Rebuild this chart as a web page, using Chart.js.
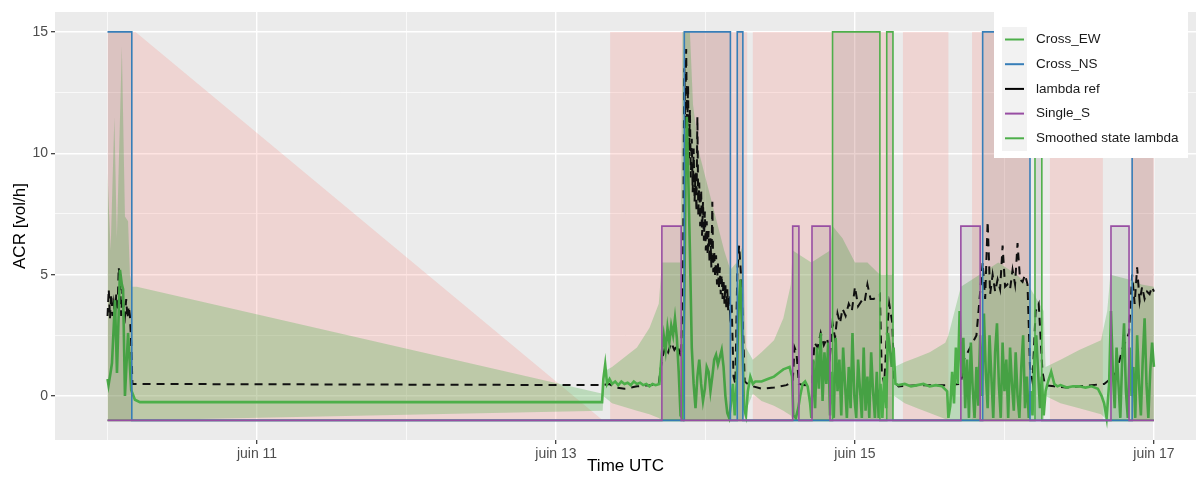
<!DOCTYPE html>
<html>
<head>
<meta charset="utf-8">
<script src="https://cdn.jsdelivr.net/npm/chart.js@4.4.0/dist/chart.umd.min.js"></script>
<style>
  body { margin: 0; background: #fff; }
</style>
</head>
<body>
<canvas id="myChart" width="1196" height="478"></canvas>
<script>
// hours since juin 10 00:00 UTC
const xTickHours = [24, 72, 120, 168];
const xTickLabels = ['juin 11', 'juin 13', 'juin 15', 'juin 17'];
const yTickValues = [0, 5, 10, 15];

const legendItems = ['Cross_EW', 'Cross_NS', 'lambda ref', 'Single_S', 'Smoothed state lambda'];
const legendColors = ['#4DAF4A', '#377EB8', '#000000', '#984EA3', '#4DAF4A'];

// state indicators: change times and the value held from that time
const crossNsT = [0, 3.9, 92.6, 100.0, 101.1, 102.0, 140.5, 148.1, 164.5, 168];
const crossNsV = [15, -1, 15, -1, 15, -1, 15, -1, 15, 15];
const crossEwT = [0, 116.4, 124.0, 125.1, 126.1, 148.9, 150.0, 168];
const crossEwV = [-1, 15, -1, 15, -1, 15, -1, -1];
const singleST = [0, 89.0, 92.1, 110.0, 111.0, 113.1, 116.0, 137.0, 140.1, 161.1, 164.0, 168];
const singleSV = [-1, 7, -1, 7, -1, 7, -1, 7, -1, 7, -1, -1];

// pink band (upper edge, lower edge is -1)
const pinkT = [0, 4.5, 79.5, 80.7, 80.7, 102.7, 102.7, 103.6, 103.6, 126.1, 126.1, 127.7, 127.7, 135, 135, 138.8, 138.8, 148.1, 148.1, 151.3, 151.3, 159.8, 159.8, 164.3, 164.3, 168];
const pinkHi = [15, 15, -1, -1, 15, 15, -1, -1, 15, 15, -1, -1, 15, 15, -1, -1, 15, 15, -1, -1, 15, 15, -1, -1, 15, 15];

// green confidence band of the smoothed state
const bandT  = [0, 0.5, 1.1, 1.5, 2.3, 2.8, 3.3, 3.6, 3.9, 4.7, 79.5, 79.6, 81, 83, 85, 87, 88.5, 89.0, 92.0, 92.3, 93.5, 94, 95, 96, 97, 98, 99, 100, 101, 102, 102.5, 103.6, 105, 107, 108.5, 109.7, 110, 113, 116, 116.4, 118, 120, 122, 124, 126, 126.3, 128, 130, 132, 134.5, 135, 137, 140, 143, 146, 148, 150.3, 150.6, 153, 156, 159.5, 160.5, 161, 164, 166, 168];
const bandHi = [9.2, 6, 11.5, 6.5, 14.4, 7.4, 7.2, 5, 4.5, 4.5, 0.1, 1.0, 1.2, 1.6, 2.0, 2.8, 3.8, 5.5, 5.5, 15, 15, 12, 10, 9, 8, 7, 6, 5.2, 5.5, 6.2, 2.0, 1.5, 1.8, 2.3, 3.2, 4.6, 6.0, 5.5, 6.0, 7.0, 6.5, 5.5, 5.5, 5.0, 5.0, 1.2, 1.4, 1.6, 1.8, 2.2, 2.5, 4.5, 5.0, 5.5, 5.0, 4.5, 3.5, 1.2, 1.5, 1.9, 2.3, 3.5, 5.0, 4.8, 4.6, 4.5];
const bandLo = [-1, -1, -1, -1, -1, -1, -1, -1, -1, -1, -0.6, 0.0, -0.3, -0.45, -0.6, -0.75, -0.9, -1, -1, -1, -1, -1, -1, -1, -1, -1, -1, -1, -1, -1, -0.6, 0.1, -0.2, -0.4, -0.6, -0.8, -1, -1, -1, -1, -1, -1, -1, -1, -1, 0.0, -0.3, -0.5, -0.7, -0.95, -1, -1, -1, -1, -1, -1, -1, 0.0, -0.3, -0.5, -0.75, -1, -1, -1, -1, -1];

// smoothed state lambda [hour, value]
const smoothedLambda = [
  [0, 0.7], [0.16, 0.45], [0.45, 0.9], [0.72, 1.36], [1.2, 3.95], [1.52, 0.95], [2.0, 5.2], [2.3, 4.6], [2.5, 4.4], [2.8, 0.0], [3.3, 2.6], [3.8, 0.25], [4.4, -0.15], [5.2, -0.25], [79.4, -0.25],
  [79.6, 0.7], [79.9, 1.3], [80.2, 0.5], [80.6, 0.7], [81, 0.5], [81.5, 0.6], [82, 0.45], [82.5, 0.6], [83, 0.5], [83.5, 0.55], [84, 0.45], [84.5, 0.6], [85, 0.5], [85.5, 0.55], [86, 0.45], [86.5, 0.5], [87, 0.4], [87.5, 0.5], [88, 0.45], [88.6, 0.5],
  [89.0, 1.8], [89.3, 2.5], [89.6, 1.9], [89.9, 2.8], [90.2, 2.2], [90.5, 2.9], [90.8, 2.5], [91.1, 3.2], [91.4, 2.4], [91.7, 1.0], [92.0, -0.8],
  [92.3, -0.9], [92.6, 4.0], [92.8, 9.0], [93.0, 11.5], [93.2, 9.5], [93.5, 6.0], [93.8, 2.0], [94.1, 0.5], [94.4, -0.5], [94.7, 0.8], [95.0, 1.5], [95.3, 0.5], [95.6, -0.2], [95.9, 0.3], [96.2, 1.2], [96.5, 1.0], [96.8, 0.2], [97.1, 0.8], [97.4, 1.5], [97.7, 1.7], [98.0, 1.3], [98.3, 1.6], [98.6, 1.9], [98.9, 1.2], [99.2, 0.0], [99.5, -0.7], [99.8, -0.9], [100.1, -0.3], [100.4, 0.5], [100.7, -0.8], [101.0, 0.5], [101.3, 3.5], [101.6, 4.8], [101.9, 2.5], [102.2, -0.5], [102.5, -0.8], [102.8, 0.2],
  [103.2, 0.8], [103.6, 0.5], [104, 0.6], [105, 0.6], [106, 0.7], [107, 0.8], [108, 1.0], [108.5, 1.1], [109, 1.15], [109.5, 1.2], [109.9, 0.8], [110.1, -0.8], [110.5, -0.9], [110.9, -0.5], [111.2, 0.0], [111.6, 0.5], [112, 0.6], [112.4, 0.4], [112.8, -0.3], [113.0, -0.9],
  [113.3, 1.5], [113.6, -0.5], [113.9, 2.0], [114.2, 0.3], [114.5, 2.6], [114.8, -0.2], [115.1, 1.8], [115.4, 0.5], [115.7, 2.2], [116.0, -0.8], [116.3, 1.0],
  [116.6, -0.9], [116.9, 2.4], [117.2, 0.2], [117.5, 1.5], [117.8, -0.8], [118.1, 2.0], [118.4, 0.5], [118.7, -0.9], [119.0, 1.2], [119.3, -0.5], [119.6, 2.6], [119.9, 0.0], [120.2, -0.9], [120.5, 1.5], [120.8, 0.3], [121.1, -0.9], [121.4, 2.0], [121.7, -0.6], [122.0, 0.8], [122.3, -0.9], [122.6, 1.8], [122.9, 0.2], [123.2, -0.9], [123.5, 1.0], [123.8, -0.9], [124.1, 0.5], [124.4, -0.9], [124.7, 0.8], [125.0, -0.5], [125.3, 2.6], [125.6, 2.0], [125.9, 1.2], [126.2, 2.0], [126.5, 0.5],
  [127, 0.45], [128, 0.5], [129, 0.4], [130, 0.45], [131, 0.5], [132, 0.4], [133, 0.45], [134, 0.4], [134.8, 0.2], [135.0, -0.9], [135.3, -0.4],
  [135.6, 1.0], [135.9, -0.3], [136.2, 2.0], [136.5, 0.5], [136.8, 3.5], [137.1, 0.8], [137.4, 2.4], [137.7, -0.5], [138.0, 1.5], [138.3, -0.9], [138.6, 2.2], [138.9, 0.3], [139.2, -0.9], [139.5, 1.2], [139.8, -0.4], [140.1, 2.5], [140.4, 0.0],
  [140.7, 3.4], [141.0, 1.0], [141.3, -0.5], [141.6, 2.5], [141.9, 0.8], [142.2, -0.9], [142.5, 1.8], [142.8, 3.0], [143.1, 0.5], [143.4, -0.9], [143.7, 2.2], [144.0, 0.2], [144.3, 1.5], [144.6, -0.9], [144.9, 2.0], [145.2, 0.5], [145.5, -0.6], [145.8, 1.8], [146.1, 0.0], [146.4, -0.9], [146.7, 1.2], [147.0, 2.5], [147.3, -0.5], [147.6, 0.8], [147.9, -0.9],
  [148.2, 0.2], [148.5, -0.8], [148.8, 1.5], [149.1, 2.5], [149.4, 1.0], [149.7, -0.5], [150.0, 0.8], [150.3, -0.8], [150.6, 0.2], [151, 0.6], [151.5, 1.0], [152, 0.5], [152.5, 0.4], [153, 0.45], [154, 0.35], [155, 0.4], [156, 0.4], [157, 0.35], [158, 0.4], [159, 0.3], [159.6, 0.0], [160, -0.3], [160.4, -0.9], [160.8, 0.5],
  [161.1, 3.5], [161.4, 1.0], [161.7, -0.5], [162.0, 2.0], [162.3, 0.5], [162.6, -0.9], [162.9, 1.5], [163.2, 3.0], [163.5, 0.2], [163.8, -0.9], [164.1, 2.0], [164.4, 0.0], [164.7, 1.2], [165.0, -0.9], [165.3, 2.5], [165.6, 0.5], [165.9, -0.8], [166.2, 1.5], [166.5, 3.2], [166.8, 0.5], [167.1, -0.9], [167.4, 1.0], [167.7, 2.2], [168, 1.2]
];

// lambda ref [hour, value]
const lambdaRef = [
  [0, 3.3], [0.2, 4.4], [0.4, 3.2], [0.6, 4.2], [0.8, 3.3], [1.0, 3.8], [1.2, 3.3], [1.4, 4.2], [1.6, 3.5], [1.8, 5.3], [2.0, 4.8], [2.2, 3.3], [2.4, 4.4], [2.6, 3.6], [2.8, 3.3], [3.0, 4.0], [3.2, 3.2], [3.4, 3.7], [3.6, 3.3], [3.8, 2.2], [4.0, 0.5], [79.5, 0.45],
  [80.5, 0.5], [81.5, 0.35], [83, 0.3], [85, 0.4], [87, 0.45], [88.5, 0.5], [89, 1.5], [89.5, 2.0], [90, 1.8], [90.5, 2.2], [91, 1.9], [91.5, 2.1], [92.1, 1.6], [92.4, 5.0],
  [92.6, 13.5], [92.75, 11.0], [92.9, 14.3], [93.05, 10.5], [93.2, 12.8], [93.35, 9.8], [93.5, 11.8], [93.65, 9.0], [93.8, 10.6], [93.95, 8.4], [94.1, 10.2], [94.25, 8.0], [94.4, 9.2], [94.55, 7.6], [94.7, 11.5], [94.85, 7.4], [95.0, 8.8], [95.15, 7.0], [95.3, 8.5], [95.45, 6.6], [95.6, 8.0], [95.75, 6.4], [95.9, 7.6], [96.05, 6.0], [96.2, 7.2], [96.35, 5.8], [96.5, 6.8], [96.65, 5.5], [96.8, 6.5], [96.95, 5.3], [97.1, 8.0], [97.25, 5.1], [97.4, 6.0], [97.55, 4.9], [97.7, 5.8], [97.85, 4.6], [98.0, 5.5], [98.15, 4.4], [98.3, 5.3], [98.45, 4.2], [98.6, 5.0], [98.75, 4.0], [98.9, 4.8], [99.05, 3.8], [99.2, 4.6], [99.35, 3.6], [99.5, 4.4], [99.65, 3.5], [99.8, 4.2], [99.95, 3.4], [100.2, 3.8], [100.5, 0.8], [100.8, 0.5],
  [101.1, 5.0], [101.4, 6.2], [101.7, 5.0], [102.0, 3.0], [102.3, 0.6], [103, 0.45], [105, 0.3], [107, 0.35], [109, 0.45], [110, 0.6], [110.3, 2.0], [110.6, 1.8], [111.0, 0.5], [112, 0.45],
  [113.1, 0.5], [113.5, 2.2], [114, 2.0], [114.5, 2.6], [115, 2.1], [115.5, 2.4], [116.0, 1.7], [116.4, 3.0], [116.8, 2.4], [117.2, 3.4], [117.6, 3.0], [118.0, 3.6], [118.5, 3.3], [119.0, 3.8], [119.5, 3.5], [120.0, 4.5], [120.5, 3.7], [121.0, 3.9], [121.5, 3.8], [122.0, 4.6], [122.5, 4.0], [123.0, 4.0], [123.5, 4.1], [124.0, 4.2], [124.3, 1.0], [124.7, 0.5],
  [125.1, 2.5], [125.5, 3.8], [126.0, 3.0], [126.3, 0.6], [127, 0.4], [130, 0.45], [133, 0.45], [135, 0.45], [137, 0.5], [137.5, 1.5], [138.5, 2.0], [139.5, 2.5],
  [140.5, 5.5], [140.9, 4.0], [141.3, 7.2], [141.7, 4.2], [142.1, 5.0], [142.5, 4.3], [142.9, 4.8], [143.3, 4.4], [143.7, 6.2], [144.1, 4.5], [144.5, 4.6], [144.9, 4.4], [145.3, 5.2], [145.7, 4.6], [146.1, 6.3], [146.5, 4.8], [146.9, 4.7], [147.3, 5.0], [147.7, 4.6],
  [148.1, 1.2], [148.5, 0.6], [149.0, 3.5], [149.5, 3.8], [150.1, 1.0], [150.5, 0.45], [152, 0.4], [154, 0.35], [156, 0.4], [158, 0.45], [160, 0.5], [161, 0.7], [162, 1.0], [163, 2.0], [164, 2.6],
  [164.5, 5.0], [164.9, 3.8], [165.3, 5.3], [165.7, 3.9], [166.1, 4.5], [166.5, 4.0], [166.9, 4.3], [167.3, 4.2], [167.7, 4.5], [168, 4.3]
];

const toXY = (ts, vs) => ts.map((t, i) => ({ x: t, y: vs[i] }));
const pairsXY = (arr) => arr.map(p => ({ x: p[0], y: p[1] }));

const panelBg = {
  id: 'panelBg',
  beforeDraw(chart) {
    const a = chart.chartArea;
    const ctx = chart.ctx;
    ctx.save();
    ctx.fillStyle = '#ebebeb';
    ctx.fillRect(a.left, a.top, a.right - a.left, a.bottom - a.top);
    ctx.restore();
  }
};

// ggplot style legend box drawn over the top right of the panel
const ggLegend = {
  id: 'ggLegend',
  afterDraw(chart) {
    const ctx = chart.ctx;
    ctx.save();
    ctx.fillStyle = '#ffffff';
    ctx.fillRect(994, 12, 194, 146);
    ctx.fillStyle = '#f2f2f2';
    ctx.fillRect(1002, 27, 25, 124);
    ctx.font = '13.5px "Liberation Sans", Arial, sans-serif';
    ctx.textBaseline = 'middle';
    legendItems.forEach((label, i) => {
      const y = 39.5 + i * 24.7;
      ctx.strokeStyle = legendColors[i];
      ctx.lineWidth = 2;
      ctx.beginPath();
      ctx.moveTo(1005, y);
      ctx.lineTo(1024, y);
      ctx.stroke();
      ctx.fillStyle = '#1a1a1a';
      ctx.fillText(label, 1036, y);
    });
    ctx.restore();
  }
};

Chart.defaults.font.family = '"Liberation Sans", Arial, sans-serif';

const ctx = document.getElementById('myChart');
new Chart(ctx, {
  type: 'line',
  data: {
    datasets: [
      {
        label: 'Single_S',
        data: toXY(singleST, singleSV),
        stepped: true,
        borderColor: '#984EA3',
        borderWidth: 1.6,
        backgroundColor: 'rgba(0,0,0,0.08)',
        fill: { value: -1 },
        order: 1
      },
      {
        label: 'Cross_NS',
        data: toXY(crossNsT, crossNsV),
        stepped: true,
        borderColor: '#377EB8',
        borderWidth: 1.6,
        backgroundColor: 'rgba(0,0,0,0.08)',
        fill: { value: -1 },
        order: 2
      },
      {
        label: 'Cross_EW',
        data: toXY(crossEwT, crossEwV),
        stepped: true,
        borderColor: '#4DAF4A',
        borderWidth: 1.6,
        backgroundColor: 'rgba(0,0,0,0.08)',
        fill: { value: -1 },
        order: 3
      },
      {
        label: 'Smoothed state lambda',
        data: pairsXY(smoothedLambda),
        borderColor: '#4DAF4A',
        borderWidth: 2.6,
        fill: false,
        order: 4
      },
      {
        label: 'lambda ref',
        data: pairsXY(lambdaRef),
        borderColor: '#111111',
        borderWidth: 2,
        borderDash: [8, 6],
        fill: false,
        order: 5
      },
      {
        label: 'band hi',
        data: toXY(bandT, bandHi),
        borderWidth: 0,
        borderColor: 'rgba(0,0,0,0)',
        backgroundColor: 'rgba(77,175,74,0.3)',
        fill: '+1',
        order: 6
      },
      {
        label: 'band lo',
        data: toXY(bandT, bandLo),
        borderWidth: 0,
        borderColor: 'rgba(0,0,0,0)',
        fill: false,
        order: 7
      },
      {
        label: 'pink',
        data: toXY(pinkT, pinkHi),
        borderWidth: 0,
        borderColor: 'rgba(0,0,0,0)',
        backgroundColor: 'rgba(248,118,109,0.2)',
        fill: { value: -1 },
        order: 8
      }
    ]
  },
  options: {
    responsive: false,
    animation: false,
    layout: { padding: { top: 12, right: 0, left: 0, bottom: 0 } },
    elements: { point: { radius: 0 }, line: { tension: 0 } },
    plugins: {
      legend: { display: false },
      tooltip: { enabled: false }
    },
    scales: {
      x: {
        type: 'linear',
        min: -8.43,
        max: 174.75,
        afterBuildTicks: (scale) => {
          scale.ticks = [0, 24, 48, 72, 96, 120, 144, 168].map(v => ({ value: v }));
        },
        afterFit: (scale) => { scale.height = 38; },
        border: { display: false },
        grid: {
          color: '#ffffff',
          lineWidth: (c) => (xTickHours.includes(c.tick.value) ? 1.4 : 0.7),
          tickLength: 4,
          tickColor: (c) => (xTickHours.includes(c.tick.value) ? '#333333' : 'rgba(0,0,0,0)'),
          tickWidth: 1.2
        },
        ticks: {
          autoSkip: false,
          maxRotation: 0,
          padding: 2,
          color: '#4d4d4d',
          font: { size: 14 },
          callback: (v) => {
            const i = xTickHours.indexOf(v);
            return i >= 0 ? xTickLabels[i] : '';
          }
        },
        title: {
          display: true,
          text: 'Time UTC',
          color: '#000000',
          font: { size: 17 },
          padding: { top: 0, bottom: 1 }
        }
      },
      y: {
        type: 'linear',
        min: -1.81,
        max: 15.82,
        afterBuildTicks: (scale) => {
          scale.ticks = [0, 2.5, 5, 7.5, 10, 12.5, 15].map(v => ({ value: v }));
        },
        afterFit: (scale) => { scale.width = 55; },
        border: { display: false },
        grid: {
          color: '#ffffff',
          lineWidth: (c) => (yTickValues.includes(c.tick.value) ? 1.4 : 0.7),
          tickLength: 4,
          tickColor: (c) => (yTickValues.includes(c.tick.value) ? '#333333' : 'rgba(0,0,0,0)'),
          tickWidth: 1.2
        },
        ticks: {
          autoSkip: false,
          padding: 3,
          color: '#4d4d4d',
          font: { size: 14 },
          callback: (v) => (yTickValues.includes(v) ? String(v) : '')
        },
        title: {
          display: true,
          text: 'ACR [vol/h]',
          color: '#000000',
          font: { size: 17 },
          padding: { top: 10, bottom: 0 }
        }
      }
    }
  },
  plugins: [panelBg, ggLegend]
});
</script>
</body>
</html>
